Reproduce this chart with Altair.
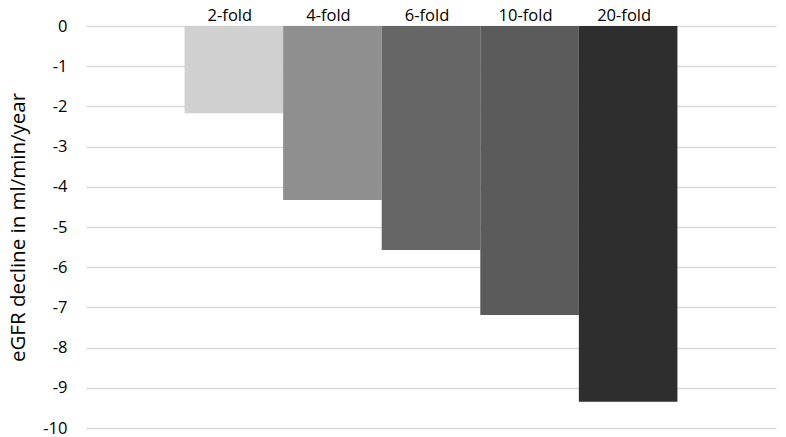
import altair as alt
import pandas as pd

slots = ["pad_l", "2-fold", "4-fold", "6-fold", "10-fold", "20-fold", "pad_r"]
categories = ["2-fold", "4-fold", "6-fold", "10-fold", "20-fold"]
values = [-2.17, -4.33, -5.57, -7.19, -9.35]
colors = ["#d0d0d0", "#8f8f8f", "#666666", "#5b5b5b", "#2e2e2e"]
y_ticks = list(range(-10, 1))

df = pd.DataFrame({"cat": categories, "val": values})

FONT = "Open Sans"

x = alt.X("cat:N", scale=alt.Scale(domain=slots, paddingInner=0, paddingOuter=0), axis=None)

bars = alt.Chart(df).mark_bar(stroke=None).encode(
    x=x,
    y=alt.Y("val:Q", scale=alt.Scale(domain=[-10, 0], nice=False),
            axis=alt.Axis(values=y_ticks, grid=True, gridColor="#d9d9d9", gridWidth=1.5,
                          domain=False, ticks=False, labelPadding=19, labelFontSize=16.5,
                          labelExpr="datum.value + ''",
                          labelFont=FONT, labelColor="#000000",
                          title="eGFR decline in ml/min/year", titleFont=FONT,
                          titleFontSize=20.5, titleFontWeight="normal", titleColor="#000000",
                          titlePadding=14)),
    color=alt.Color("cat:N", scale=alt.Scale(domain=categories, range=colors), legend=None),
)

labels = alt.Chart(df).mark_text(baseline="alphabetic", dy=-5, dx=-4, fontSize=16.5, font=FONT,
                                 color="#000000").encode(
    x=x,
    y=alt.datum(0),
    text="cat:N",
)

chart = (bars + labels).properties(
    width=690, height=402,
    autosize=alt.AutoSizeParams(type="none"),
    padding={"left": 78, "top": 18, "right": 2, "bottom": 10},
).configure_view(stroke=None)

chart.save("out.html", embed_options={"renderer": "svg", "actions": False})
